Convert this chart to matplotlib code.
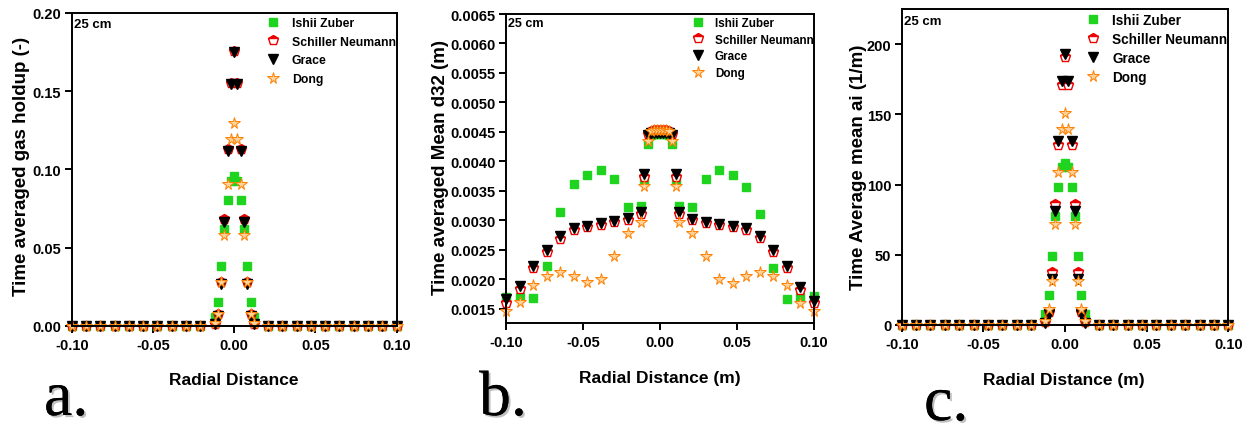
import matplotlib
matplotlib.use("Agg")
import matplotlib.pyplot as plt
import matplotlib.patheffects as pe
from matplotlib.ticker import FormatStrFormatter

plt.rcParams['font.family'] = ['Liberation Sans', 'DejaVu Sans']
plt.rcParams['font.weight'] = 'bold'
plt.rcParams['axes.labelweight'] = 'bold'

# radial positions (m), same grid for all three panels
radial = [-0.1, -0.0912, -0.0824, -0.0736, -0.0648, -0.056, -0.0472, -0.0384, -0.0297, -0.0209, -0.0121,
          -0.0101, -0.008, -0.006, -0.004, -0.002, 0.0, 0.002, 0.004, 0.006, 0.008, 0.0101,
          0.0121, 0.0209, 0.0297, 0.0384, 0.0472, 0.056, 0.0648, 0.0736, 0.0824, 0.0912, 0.1]

models = ['Ishii Zuber', 'Schiller Neumann', 'Grace', 'Dong']

# a. gas holdup (-)
holdup_ishii = [0, 0, 0, 0, 0, 0, 0, 0, 0, 0, 0.0055,
                0.0153, 0.0383, 0.0617, 0.0805, 0.0926, 0.0958, 0.0926, 0.0805, 0.0617, 0.0383, 0.0153,
                0.0055, 0, 0, 0, 0, 0, 0, 0, 0, 0, 0]
holdup_schiller = [0, 0, 0, 0, 0, 0, 0, 0, 0, 0, 0.0012,
                   0.0075, 0.028, 0.068, 0.113, 0.1555, 0.1758, 0.1555, 0.113, 0.068, 0.028, 0.0075,
                   0.0012, 0, 0, 0, 0, 0, 0, 0, 0, 0, 0]
holdup_grace = [0, 0, 0, 0, 0, 0, 0, 0, 0, 0, 0.0008,
                0.0064, 0.0266, 0.0664, 0.1117, 0.1543, 0.1749, 0.1543, 0.1117, 0.0664, 0.0266, 0.0064,
                0.0008, 0, 0, 0, 0, 0, 0, 0, 0, 0, 0]
holdup_dong = [0, 0, 0, 0, 0, 0, 0, 0, 0, 0, 0.0015,
               0.0075, 0.0277, 0.058, 0.0905, 0.1192, 0.1299, 0.1192, 0.0905, 0.058, 0.0277, 0.0075,
               0.0015, 0, 0, 0, 0, 0, 0, 0, 0, 0, 0]

# b. mean d32 (m)
d32_ishii = [0.0017, 0.0017, 0.00168, 0.00222, 0.00315, 0.00362, 0.00377, 0.00386, 0.0037, 0.00322, 0.00325,
             0.0037, 0.0043, 0.00445, 0.00446, 0.00446, 0.00446, 0.00446, 0.00446, 0.00445, 0.0043, 0.0037,
             0.00325, 0.00322, 0.0037, 0.00386, 0.00377, 0.00357, 0.00311, 0.0022, 0.00167, 0.0017, 0.00172]
d32_schiller = [0.0016, 0.00183, 0.00219, 0.00246, 0.00269, 0.00284, 0.00288, 0.00293, 0.00297, 0.00301, 0.0031,
                0.00374, 0.00446, 0.00452, 0.00453, 0.00453, 0.00453, 0.00453, 0.00453, 0.00452, 0.00446, 0.00374,
                0.0031, 0.003, 0.00296, 0.00292, 0.00289, 0.00284, 0.0027, 0.00246, 0.00219, 0.00182, 0.0016]
d32_grace = [0.00166, 0.00189, 0.00223, 0.0025, 0.00273, 0.00287, 0.00291, 0.00295, 0.00299, 0.00304, 0.00314,
             0.00378, 0.00444, 0.00448, 0.00448, 0.00448, 0.00448, 0.00448, 0.00448, 0.00448, 0.00444, 0.00378,
             0.00314, 0.00303, 0.00298, 0.00294, 0.00291, 0.00287, 0.00273, 0.0025, 0.00223, 0.00187, 0.00164]
d32_dong = [0.00147, 0.00161, 0.0019, 0.00206, 0.00213, 0.00206, 0.00195, 0.00201, 0.00239, 0.00278, 0.00297,
            0.00358, 0.00435, 0.00452, 0.00454, 0.00454, 0.00454, 0.00454, 0.00454, 0.00452, 0.00435, 0.00358,
            0.00297, 0.00278, 0.00239, 0.00201, 0.00194, 0.00206, 0.00213, 0.00206, 0.0019, 0.0016, 0.00147]

# c. interfacial area ai (1/m)
ai_ishii = [0, 0, 0, 0, 0, 0, 0, 0, 0, 0, 7.8,
            21.6, 49.3, 77.7, 98.0, 112.2, 115.7, 112.2, 98.0, 77.7, 49.3, 21.6,
            7.8, 0, 0, 0, 0, 0, 0, 0, 0, 0, 0]
ai_schiller = [0, 0, 0, 0, 0, 0, 0, 0, 0, 0, 2.0,
               9.0, 38.0, 86.0, 128.0, 171.0, 191.0, 171.0, 128.0, 86.0, 38.0, 9.0,
               2.0, 0, 0, 0, 0, 0, 0, 0, 0, 0, 0]
ai_grace = [0, 0, 0, 0, 0, 0, 0, 0, 0, 0, 1.5,
            7.8, 33.0, 81.3, 131.0, 173.8, 192.7, 173.8, 131.0, 81.3, 33.0, 7.8,
            1.5, 0, 0, 0, 0, 0, 0, 0, 0, 0, 0]
ai_dong = [0, 0, 0, 0, 0, 0, 0, 0, 0, 0, 3.0,
           11.4, 31.0, 71.8, 108.6, 139.4, 150.8, 139.4, 108.6, 71.8, 31.0, 11.4,
           3.0, 0, 0, 0, 0, 0, 0, 0, 0, 0, 0]

styles = [
    dict(marker='s', ms=5.5, color='#1fd41f', mec='#1fd41f', ls='none'),
    dict(marker='p', ms=7, color='#ee0000', mec='#ee0000', mfc='#ee0000',
         fillstyle='top', markerfacecoloralt='white', mew=1.0, ls='none'),
    dict(marker='v', ms=7.5, color='black', mec='black', ls='none'),
    dict(marker='*', ms=8.5, color='#ff8000', mec='#ff8000', mfc='#ffd29c', mew=0.7, ls='none'),
]


def draw_panel(fig, rect, series, ylim, yticks, yfmt, ylabel, xlabel, ylab_xy, xlab_xy,
               leg_xy, leg_size, leg_spacing, leg_pad, tag_xy, tag_size):
    ax = fig.add_axes(rect)
    for vals, name, st in zip(series, models, styles):
        ax.plot(radial, vals, label=name, clip_on=False, **st)
    ax.set_xlim(-0.1, 0.1)
    ax.set_ylim(*ylim)
    ax.set_xticks([-0.1, -0.05, 0.0, 0.05, 0.1])
    ax.set_yticks(yticks)
    ax.xaxis.set_major_formatter(FormatStrFormatter('%.2f'))
    ax.yaxis.set_major_formatter(FormatStrFormatter(yfmt))
    ax.tick_params(direction='out', length=5, width=1.4, labelsize=10.5)
    ax.tick_params(axis='x', pad=4)
    ax.tick_params(axis='y', pad=2.5)
    for s in ax.spines.values():
        s.set_linewidth(1.4)
    ax.set_ylabel(ylabel, fontsize=13.5, va='center', ha='center')
    ax.yaxis.set_label_coords(*ylab_xy)
    ax.set_xlabel(xlabel, fontsize=12.5, va='center', ha='center')
    ax.xaxis.set_label_coords(*xlab_xy)
    ax.text(tag_xy[0], tag_xy[1], '25 cm', transform=ax.transAxes, fontsize=tag_size,
            ha='left', va='center')
    ax.legend(loc='upper left', bbox_to_anchor=leg_xy, frameon=False, fontsize=leg_size,
              handlelength=1.0, handletextpad=leg_pad, labelspacing=leg_spacing,
              borderpad=0, borderaxespad=0, numpoints=1)
    return ax


fig = plt.figure(figsize=(12.47, 4.35), dpi=100)
fig.patch.set_facecolor('white')

draw_panel(fig, [0.0575, 0.249, 0.2606, 0.7189],
           [holdup_ishii, holdup_schiller, holdup_grace, holdup_dong],
           (0, 0.2), [0, 0.05, 0.1, 0.15, 0.2], '%.2f',
           'Time averaged gas holdup (-)', 'Radial Distance',
           (-0.153, 0.511), (0.5, -0.1705),
           (0.600, 0.987), 8.8, 0.55, 1.06, (0.007, 0.965), 9.5)

draw_panel(fig, [0.4058, 0.2552, 0.247, 0.7103],
           [d32_ishii, d32_schiller, d32_grace, d32_dong],
           (0.00126, 0.0065), [0.0015, 0.002, 0.0025, 0.003, 0.0035, 0.004, 0.0045, 0.005, 0.0055, 0.006, 0.0065],
           '%.4f', 'Time averaged Mean d32 (m)', 'Radial Distance (m)',
           (-0.212, 0.508), (0.5, -0.175),
           (0.604, 0.9916), 8.4, 0.42, 0.95, (0.0065, 0.971), 9.0)

draw_panel(fig, [0.7231, 0.2506, 0.2619, 0.7264],
           [ai_ishii, ai_schiller, ai_grace, ai_dong],
           (0, 225), [0, 50, 100, 150, 200], '%.0f',
           'Time Average mean ai (1/m)', 'Radial Distance (m)',
           (-0.133, 0.503), (0.497, -0.171),
           (0.565, 0.9877), 9.8, 0.37, 0.9, (0.007, 0.962), 9.5)

# panel letters
shadow = [pe.withSimplePatchShadow(offset=(1.5, -1.5), shadow_rgbFace='gray', alpha=0.5), pe.Normal()]
for label, px, py in [('a.', 44, 416), ('b.', 479, 416), ('c.', 924, 421)]:
    fig.text(px / 1247, 1 - py / 435, label, family=['Liberation Serif', 'DejaVu Serif'],
             fontweight='normal', fontsize=46, ha='left', va='baseline', path_effects=shadow)

fig.savefig('out.png', dpi=100)
